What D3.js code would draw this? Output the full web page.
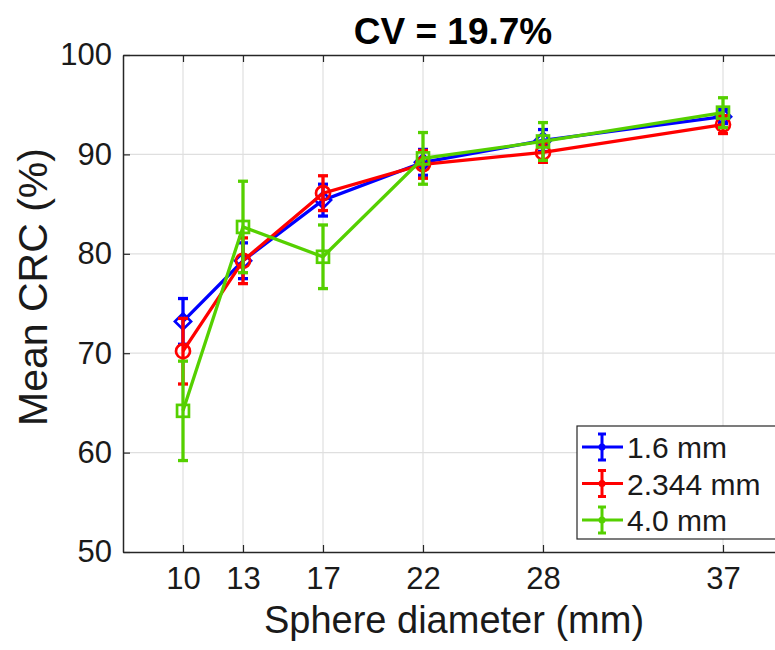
<!DOCTYPE html>
<html><head><meta charset="utf-8">
<script src="https://cdn.jsdelivr.net/npm/d3@7"></script>
<style>
html,body{margin:0;padding:0;background:#fff;overflow:hidden}
svg{display:block;font-family:"Liberation Sans",Arial,sans-serif}
</style></head>
<body>
<svg id="c" width="775" height="650"></svg>
<script>
const sizes = [10, 13, 17, 22, 28, 37];
const xTicks = [10, 13, 17, 22, 28, 37];
const yTicks = [50, 60, 70, 80, 90, 100];
const seriesNames = ["1.6 mm", "2.344 mm", "4.0 mm"];
const seriesColors = ["#0000ff", "#ff0000", "#55d000"];
const seriesMarkers = ["diamond", "circle", "square"];
const blueMean = [73.2, 79.3, 85.4, 89.2, 91.4, 93.8];
const blueErr  = [2.3, 1.8, 1.6, 1.3, 1.1, 0.7];
const redMean  = [70.2, 79.3, 86.1, 89.0, 90.2, 93.0];
const redErr   = [3.3, 2.3, 1.75, 1.4, 1.0, 0.9];
const greenMean = [64.2, 82.7, 79.7, 89.6, 91.3, 94.2];
const greenErr  = [5.0, 4.6, 3.2, 2.6, 1.9, 1.5];

const means = [blueMean, redMean, greenMean];
const errs = [blueErr, redErr, greenErr];

const svg = d3.select("#c");
const L = 123, T = 55, B = 552, R = 783;
const x = d3.scaleLinear().domain([7, 40]).range([L, R]);
const y = d3.scaleLinear().domain([50, 100]).range([B, T]);
const axisCol = "#262626";

// grid
const g = svg.append("g");
g.selectAll(".gx").data(xTicks).enter().append("line")
  .attr("x1", d => x(d)).attr("x2", d => x(d)).attr("y1", T).attr("y2", B)
  .attr("stroke", "#dfdfdf").attr("stroke-width", 1.2);
g.selectAll(".gy").data(yTicks.slice(1, -1)).enter().append("line")
  .attr("y1", d => y(d)).attr("y2", d => y(d)).attr("x1", L).attr("x2", R)
  .attr("stroke", "#dfdfdf").attr("stroke-width", 1.2);

// axes
const xAxis = d3.axisBottom(x).tickValues(xTicks).tickSizeInner(-7).tickSizeOuter(0).tickPadding(15);
const xAxisTop = d3.axisTop(x).tickValues(xTicks).tickSizeInner(-7).tickSizeOuter(0).tickFormat("");
const yAxis = d3.axisLeft(y).tickValues(yTicks).tickSizeInner(-7).tickSizeOuter(0).tickPadding(11);
const ax = svg.append("g").attr("transform", `translate(0,${B})`).call(xAxis);
const axt = svg.append("g").attr("transform", `translate(0,${T})`).call(xAxisTop);
const ay = svg.append("g").attr("transform", `translate(${L},0)`).call(yAxis);
[ax, axt, ay].forEach(a => {
  a.select(".domain").attr("stroke", axisCol).attr("stroke-width", 1.5);
  a.selectAll(".tick line").attr("stroke", axisCol).attr("stroke-width", 1.2);
  a.selectAll(".tick text").attr("fill", "#1a1a1a").style("font-size", "31px")
   .style("font-family", '"Liberation Sans",Arial,sans-serif');
});

// series
const line = d3.line().x(d => x(d[0])).y(d => y(d[1]));
function marker(sel, type, cx, cy, s, col) {
  if (type === "circle") {
    sel.append("circle").attr("cx", cx).attr("cy", cy).attr("r", s)
      .attr("fill", "none").attr("stroke", col).attr("stroke-width", 2.7);
  } else if (type === "square") {
    sel.append("rect").attr("x", cx - s * 0.85).attr("y", cy - s * 0.85)
      .attr("width", s * 1.7).attr("height", s * 1.7)
      .attr("fill", "none").attr("stroke", col).attr("stroke-width", 2.7);
  } else {
    const d = s * 1.15;
    sel.append("path").attr("d", `M${cx},${cy - d}L${cx + d},${cy}L${cx},${cy + d}L${cx - d},${cy}Z`)
      .attr("fill", "none").attr("stroke", col).attr("stroke-width", 2.7);
  }
}
means.forEach((m, i) => {
  const col = seriesColors[i];
  const sg = svg.append("g");
  const pts = sizes.map((s, j) => [s, m[j]]);
  sg.append("path").attr("d", line(pts)).attr("fill", "none")
    .attr("stroke", col).attr("stroke-width", 3.3);
  sizes.forEach((s, j) => {
    const cx = x(s), y1 = y(m[j] + errs[i][j]), y2 = y(m[j] - errs[i][j]);
    sg.append("line").attr("x1", cx).attr("x2", cx).attr("y1", y1).attr("y2", y2)
      .attr("stroke", col).attr("stroke-width", 3.3);
    [y1, y2].forEach(yy => sg.append("line").attr("x1", cx - 5).attr("x2", cx + 5)
      .attr("y1", yy).attr("y2", yy).attr("stroke", col).attr("stroke-width", 3.3));
    marker(sg, seriesMarkers[i], cx, y(m[j]), 7, col);
  });
});

// legend
const lg = svg.append("g");
lg.append("rect").attr("x", 577).attr("y", 426).attr("width", 215).attr("height", 113)
  .attr("fill", "#fff").attr("stroke", axisCol).attr("stroke-width", 1.2);
seriesNames.forEach((n, i) => {
  const cy = 447 + i * 36.5, col = seriesColors[i];
  lg.append("line").attr("x1", 582).attr("x2", 623).attr("y1", cy).attr("y2", cy)
    .attr("stroke", col).attr("stroke-width", 3);
  lg.append("line").attr("x1", 602).attr("x2", 602).attr("y1", cy - 13).attr("y2", cy + 13)
    .attr("stroke", col).attr("stroke-width", 3);
  [cy - 13, cy + 13].forEach(yy => lg.append("line").attr("x1", 598).attr("x2", 606)
    .attr("y1", yy).attr("y2", yy).attr("stroke", col).attr("stroke-width", 3));
  lg.append("circle").attr("cx", 602).attr("cy", cy).attr("r", 3.5).attr("fill", col);
  lg.append("text").attr("x", 627).attr("y", cy + 11).text(n)
    .style("font-size", "30px").attr("fill", "#1a1a1a");
});

// labels
svg.append("text").attr("x", 453).attr("y", 44).attr("text-anchor", "middle")
  .style("font-size", "37px").style("font-weight", "bold").attr("fill", "#000")
  .text("CV = 19.7%");
svg.append("text").attr("x", 454).attr("y", 633).attr("text-anchor", "middle")
  .style("font-size", "38px").attr("fill", "#1a1a1a").text("Sphere diameter (mm)");
svg.append("text").attr("transform", "translate(47,287) rotate(-90)").attr("text-anchor", "middle")
  .style("font-size", "41px").attr("fill", "#1a1a1a").text("Mean CRC (%)");
</script>
</body></html>
